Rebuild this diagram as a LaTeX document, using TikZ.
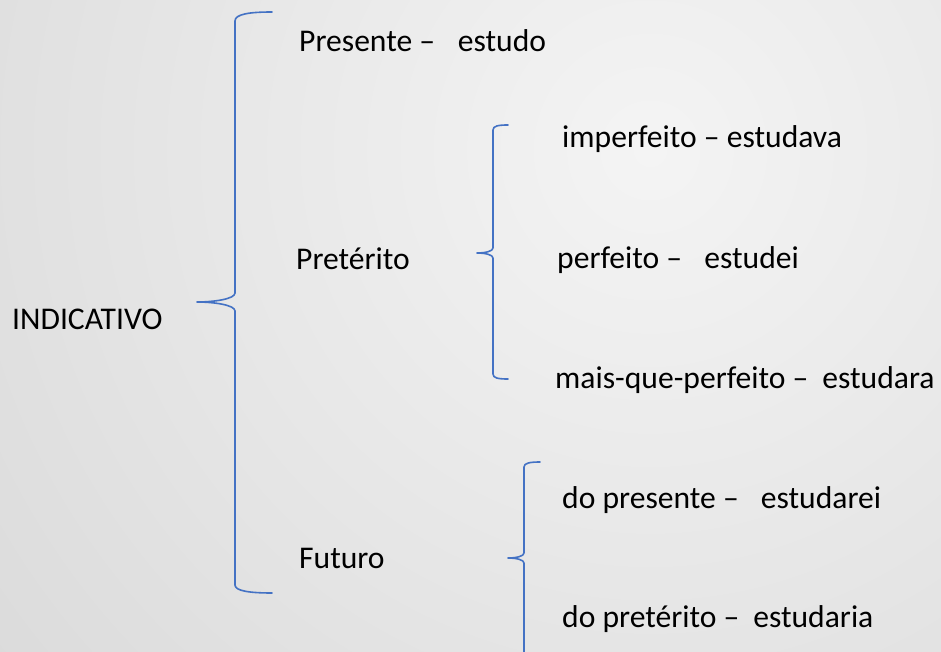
\documentclass[tikz,border=0pt]{standalone}
\usepackage{fontspec}
\setmainfont{Carlito}
\definecolor{bracecol}{HTML}{4472C4}
\definecolor{bgA}{HTML}{D9D9D9}
\definecolor{bgB}{HTML}{F4F4F4}
\begin{document}
\begin{tikzpicture}[x=1pt,y=-1pt,
  lbl/.style={anchor=base west,inner sep=0pt,font=\fontsize{31.6}{38}\selectfont,text=black},
  bracepath/.style={draw=bracecol,line width=1.6pt,line cap=round,line join=round}]
\clip (0,0) rectangle (941,652);
\useasboundingbox (0,0) rectangle (941,652);
\shade[inner color=bgB,outer color=bgA] (-250,-750) rectangle (1550,1050);

% texts
\node[lbl] (ind) at (12,329) {INDICATIVO};
\node[lbl] (pres) at (299,52) {Presente –\hspace{0.72em}estudo};
\node[lbl] (pret) at (296,269) {Pretérito};
\node[lbl] (fut) at (299,568) {Futuro};
\node[lbl] (imp) at (562,148) {imperfeito – estudava};
\node[lbl] (perf) at (557,268) {perfeito –\hspace{0.7em}estudei};
\node[lbl] (mais) at (555,388) {mais-que-perfeito –\hspace{0.44em}estudara};
\node[lbl] (dopres) at (562,508) {do presente –\hspace{0.7em}estudarei};
\node[lbl] (dopret) at (562,627) {do pretérito –\hspace{0.44em}estudaria};

% big brace
\coordinate (B1t) at (272,12);
\coordinate (B1m) at (197,302);
\coordinate (B1b) at (272,593);
\path[bracepath] (B1t) .. controls (250,12) and (235,14) .. (235,21)
  -- (235,293) .. controls (235,299) and (214,302) .. (B1m)
  .. controls (214,302) and (235,305) .. (235,311)
  -- (235,585) .. controls (235,591) and (250,593) .. (B1b);

% brace Pretérito
\coordinate (B2t) at (508,125);
\coordinate (B2m) at (477,253);
\coordinate (B2b) at (508,379);
\path[bracepath] (B2t) .. controls (498,125) and (493,126) .. (493,130)
  -- (493,248) .. controls (493,251) and (486,253) .. (B2m)
  .. controls (486,253) and (493,255) .. (493,258)
  -- (493,374) .. controls (493,378) and (498,379) .. (B2b);

% brace Futuro
\coordinate (B3t) at (540,462);
\coordinate (B3m) at (508,558);
\coordinate (B3b) at (524,670);
\path[bracepath] (B3t) .. controls (530,462) and (524,463) .. (524,467)
  -- (524,553) .. controls (524,556) and (517,558) .. (B3m)
  .. controls (517,558) and (524,560) .. (524,563)
  -- (B3b);
\end{tikzpicture}
\end{document}
